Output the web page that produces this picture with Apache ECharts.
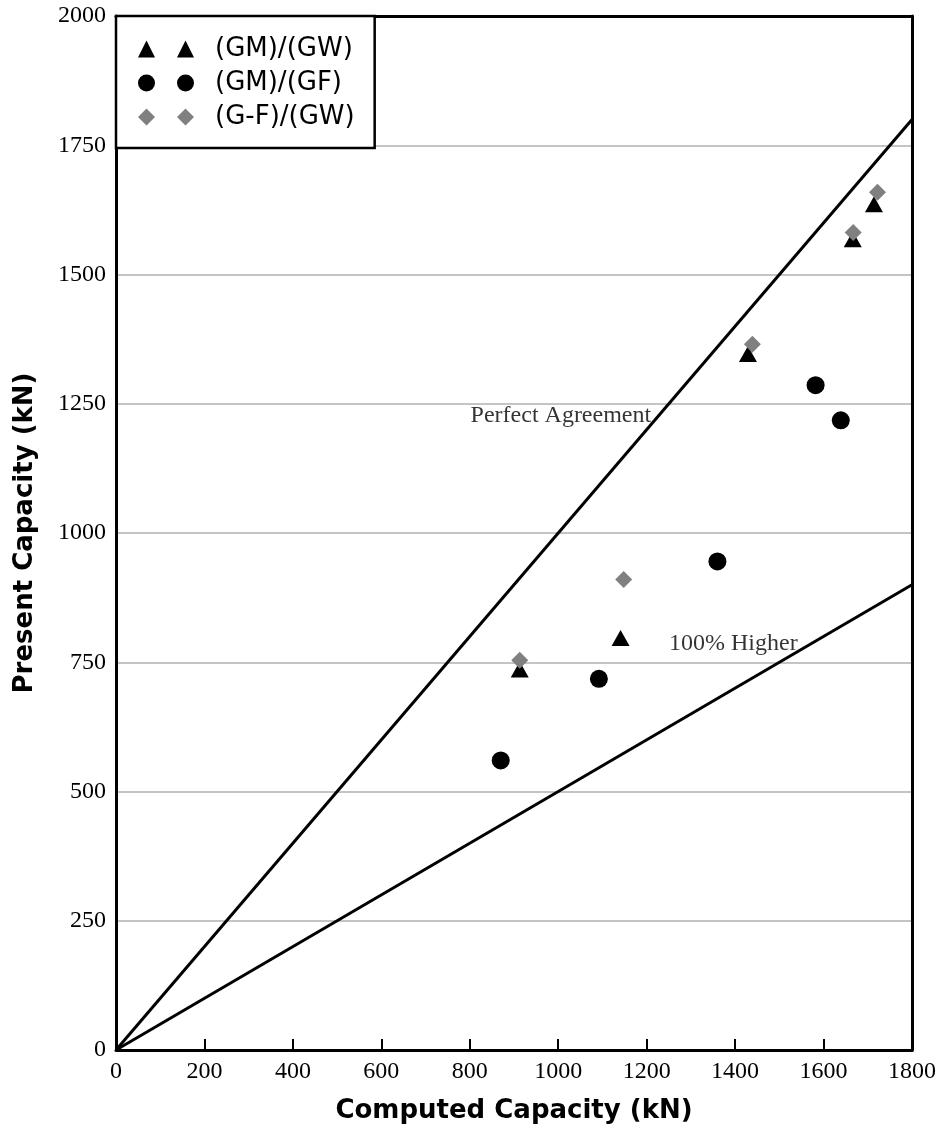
<!DOCTYPE html>
<html><head><meta charset="utf-8">
<script src="https://cdn.jsdelivr.net/npm/echarts@6/dist/echarts.min.js"></script>
<style>html,body{margin:0;padding:0;background:#fff}#c{width:942px;height:1128px}</style>
</head><body><div id="c"></div>
<script>
const seriesNames = ['(GM)/(GW)', '(GM)/(GF)', '(G-F)/(GW)'];
const gmgw = [[913,736],[1141,797],[1429,1346],[1666,1568],[1714,1636]];
const gmgf = [[870,560],[1092,718],[1360,945],[1582,1286],[1639,1218]];
const gfgw = [[913,754],[1148,910],[1439,1365],[1667,1581],[1722,1659]];
const perfectLine = [[0,0],[1800,1800]];
const higherLine = [[0,0],[1800,900]];
const annotations = [[1006,1227,'Perfect Agreement'],[1396,786,'100% Higher']];
const xTicks = [0,200,400,600,800,1000,1200,1400,1600,1800];
const yTicks = [0,250,500,750,1000,1250,1500,1750,2000];

const chart = echarts.init(document.getElementById('c'));
const serif = 'Liberation Serif';
const sans = 'DejaVu Sans';
const frameAxis = {show:true,axisLine:{show:true,onZero:false,lineStyle:{color:'#000',width:3}},axisTick:{show:false},axisLabel:{show:false},splitLine:{show:false}};
chart.setOption({
  animation:false,
  backgroundColor:'#fff',
  grid:{left:116,right:30,top:16,bottom:78,show:false,containLabel:false,outerBoundsMode:'none'},
  legend:{
    orient:'vertical', left:116, top:16,
    backgroundColor:'#fff', borderColor:'#000', borderWidth:2.5,
    padding:[20,20,18,22], itemGap:8, itemWidth:56, itemHeight:17,
    textStyle:{fontFamily:sans,fontSize:26,color:'#000',padding:[0,0,0,16]},
    data:[
      {name:seriesNames[0],icon:'path://M0,17L8.5,0L17,17Z M39,17L47.5,0L56,17Z',itemStyle:{color:'#000'}},
      {name:seriesNames[1],icon:'path://M0,8.5a8.5,8.5 0 1,0 17,0a8.5,8.5 0 1,0 -17,0Z M39,8.5a8.5,8.5 0 1,0 17,0a8.5,8.5 0 1,0 -17,0Z',itemStyle:{color:'#000'}},
      {name:seriesNames[2],icon:'path://M8.5,0L17,8.5L8.5,17L0,8.5Z M47.5,0L56,8.5L47.5,17L39,8.5Z',itemStyle:{color:'#808080'}}
    ]
  },
  xAxis:[{type:'value',min:0,max:1800,interval:200,
    name:'Computed Capacity (kN)',nameLocation:'middle',nameGap:48,
    nameTextStyle:{fontFamily:sans,fontSize:26,fontWeight:'bold',color:'#000'},
    axisLine:{onZero:false,lineStyle:{color:'#000',width:3}},
    axisTick:{inside:true,length:11,lineStyle:{color:'#000',width:2}},
    axisLabel:{fontFamily:serif,fontSize:24,color:'#000',margin:10,formatter:v=>xTicks.includes(v)?String(v):''},
    splitLine:{show:false}},
    Object.assign({type:'value',min:0,max:1800,position:'top'},frameAxis)],
  yAxis:[{type:'value',min:0,max:2000,interval:250,
    name:'Present Capacity (kN)',nameLocation:'middle',nameGap:78,nameRotate:90,
    nameTextStyle:{fontFamily:sans,fontSize:26,fontWeight:'bold',color:'#000'},
    axisLine:{onZero:false,lineStyle:{color:'#000',width:3}},
    axisTick:{show:false},
    axisLabel:{fontFamily:serif,fontSize:24,color:'#000',margin:10,formatter:v=>yTicks.includes(v)?String(v):''},
    splitLine:{show:true,lineStyle:{color:'#c4c4c4',width:2}}},
    Object.assign({type:'value',min:0,max:2000,position:'right'},frameAxis)],
  series:[
    {type:'line',data:perfectLine,showSymbol:false,symbol:'none',lineStyle:{color:'#000',width:3},silent:true,z:3},
    {type:'line',data:higherLine,showSymbol:false,symbol:'none',lineStyle:{color:'#000',width:3},silent:true,z:3},
    {type:'scatter',name:seriesNames[0],data:gmgw,symbol:'triangle',symbolSize:[18,16],itemStyle:{color:'#000',opacity:1},z:4},
    {type:'scatter',name:seriesNames[1],data:gmgf,symbol:'circle',symbolSize:18,itemStyle:{color:'#000',opacity:1},z:4},
    {type:'scatter',name:seriesNames[2],data:gfgw,symbol:'diamond',symbolSize:[17,17],itemStyle:{color:'#808080',opacity:1},z:5},
    {type:'scatter',data:annotations.map(a=>({value:[a[0],a[1]],name:a[2]})),symbolSize:0,silent:true,z:6,
      label:{show:true,position:'inside',formatter:p=>p.name,fontFamily:serif,fontSize:24,color:'#000'}}
  ]
});
</script></body></html>
